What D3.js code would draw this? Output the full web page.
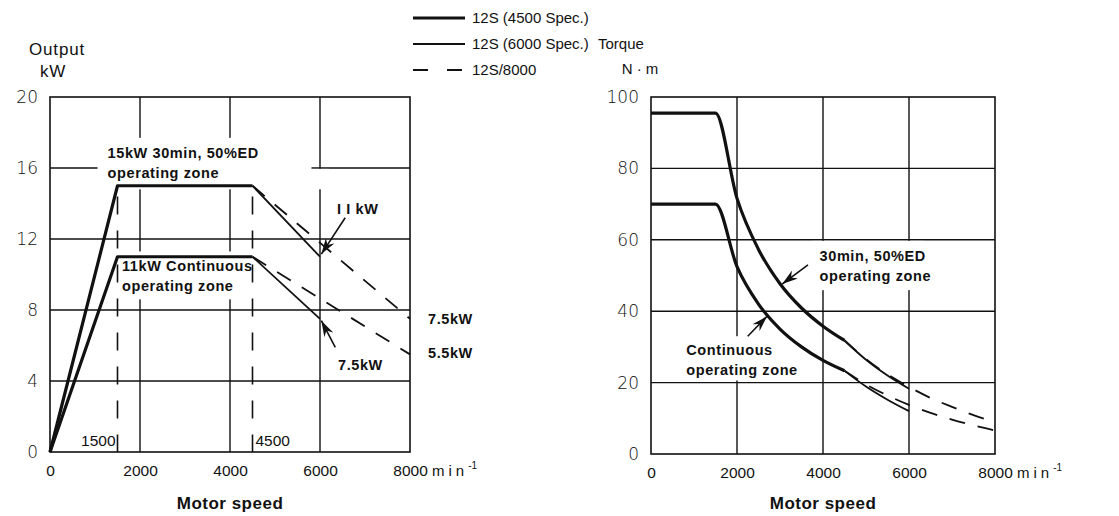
<!DOCTYPE html>
<html>
<head>
<meta charset="utf-8">
<script src="https://cdn.jsdelivr.net/npm/d3@7"></script>
<style>
  body { margin: 0; background: #fff; }
  text { font-family: "Liberation Sans", Arial, sans-serif; fill: #111; }
  .note { font-weight: bold; font-size: 14.5px; letter-spacing: 0.6px; }
  .ytick { font-family: "DejaVu Sans", sans-serif; font-size: 17px; font-weight: 300; }
  .xtick { font-size: 15.5px; }
</style>
</head>
<body>
<svg id="chart" width="1119" height="516"></svg>
<script>
'use strict';

// ---- shared
const speedTicks = [0, 2000, 4000, 6000, 8000];
const legendNames = ['12S (4500 Spec.)', '12S (6000 Spec.)', '12S/8000'];

// ---- output chart (kW)
const outTicksY = [0, 4, 8, 12, 16, 20];
const outSpeed4500 = [0, 1500, 4500];
const out30_4500 = [0, 15, 15];
const outCont_4500 = [0, 11, 11];
const outSpeed6000 = [4500, 6000];
const out30_6000 = [15, 11];
const outCont_6000 = [11, 7.5];
const outSpeed8000 = [4500, 8000];
const out30_8000 = [15, 7.5];
const outCont_8000 = [11, 5.5];
const baseSpeeds = [1500, 4500];

// ---- torque chart (N·m)
const tqTicksY = [0, 20, 40, 60, 80, 100];
const tqSpeed4500 = [0, 1500, 2000, 2500, 3000, 3500, 4000, 4500];
const tq30_4500 = [95.5, 95.5, 71.6, 57.3, 47.7, 40.9, 35.8, 31.8];
const tqCont_4500 = [70, 70, 52.5, 42, 35, 30, 26.2, 23.3];
const tqSpeed6000 = [4500, 5000, 5500, 6000];
const tq30_6000 = [31.8, 26.4, 22, 18.3];
const tqCont_6000 = [23.3, 18.9, 15.2, 12];
const tqSpeed8000 = [4500, 5000, 5500, 6000, 6500, 7000, 7500, 8000];
const tq30_8000 = [31.8, 26.6, 22.3, 18.8, 15.7, 13.2, 10.9, 8.95];
const tqCont_8000 = [23.3, 19.5, 16.4, 13.75, 11.5, 9.65, 8.0, 6.6];

const svg = d3.select('#chart');

svg.append('defs').append('marker')
    .attr('id', 'arrow')
    .attr('markerUnits', 'userSpaceOnUse')
    .attr('markerWidth', 18).attr('markerHeight', 10)
    .attr('refX', 16).attr('refY', 5)
    .attr('orient', 'auto')
  .append('path')
    .attr('d', 'M0,0 L16,5 L0,10 L5,5 Z')
    .attr('fill', '#111');

const styles = {
    thick: { w: 3.2, dash: null },
    thin: { w: 1.8, dash: null },
    dash: { w: 1.8, dash: '16,13' }
};

function panel(cfg) {
    let x = d3.scaleLinear().domain([0, 8000]).range(cfg.xr);
    let y = d3.scaleLinear().domain(cfg.yd).range(cfg.yr);
    let g = svg.append('g');

    // grid
    g.selectAll('.vg').data(speedTicks.slice(1, -1)).enter().append('line')
        .attr('x1', d => x(d)).attr('x2', d => x(d))
        .attr('y1', cfg.yr[1]).attr('y2', cfg.yr[0])
        .attr('stroke', '#111').attr('stroke-width', 1.4);
    g.selectAll('.hg').data(cfg.yticks.slice(1, -1)).enter().append('line')
        .attr('x1', cfg.xr[0]).attr('x2', cfg.xr[1])
        .attr('y1', d => y(d)).attr('y2', d => y(d))
        .attr('stroke', '#111').attr('stroke-width', 1.4);

    // white boxes where the notes cut the grid
    g.selectAll('.box').data(cfg.boxes).enter().append('rect')
        .attr('x', d => x(d[0])).attr('y', d => y(d[3]))
        .attr('width', d => x(d[2]) - x(d[0]))
        .attr('height', d => y(d[1]) - y(d[3]))
        .attr('fill', '#fff');

    g.append('rect')
        .attr('x', cfg.xr[0]).attr('y', cfg.yr[1])
        .attr('width', cfg.xr[1] - cfg.xr[0]).attr('height', cfg.yr[0] - cfg.yr[1])
        .attr('fill', 'none').attr('stroke', '#111').attr('stroke-width', 1.6);

    // axes (labels only)
    let ax = g.append('g').attr('transform', 'translate(0,' + cfg.yr[0] + ')')
        .call(d3.axisBottom(x).tickValues(speedTicks).tickSize(0).tickPadding(13).tickFormat(d3.format('d')));
    ax.select('.domain').remove();
    ax.selectAll('text').attr('class', 'xtick').attr('font-family', null).attr('font-size', null);
    let ay = g.append('g').attr('transform', 'translate(' + cfg.xr[0] + ',0)')
        .call(d3.axisLeft(y).tickValues(cfg.yticks).tickSize(0).tickPadding(12));
    ay.select('.domain').remove();
    ay.selectAll('text').attr('class', 'ytick').attr('font-family', null).attr('font-size', null);

    g.append('text').attr('x', cfg.xr[1] + 22).attr('y', cfg.yr[0] + 24)
        .attr('font-size', 15).attr('letter-spacing', 4).text('min')
      .append('tspan').attr('dy', -7).attr('font-size', 10).attr('letter-spacing', 0).text('-1');
    g.append('text').attr('x', (cfg.xr[0] + cfg.xr[1]) / 2).attr('y', 509)
        .attr('text-anchor', 'middle').attr('font-size', 17).attr('font-weight', 'bold')
        .attr('letter-spacing', 0.5)
        .text('Motor speed');

    cfg.notes.forEach(function(n) {
        let t = g.append('text').attr('class', 'note')
            .attr('x', x(n.at[0])).attr('y', y(n.at[1]))
            .attr('letter-spacing', n.ls);
        n.lines.forEach(function(s, i) {
            t.append('tspan').attr('x', x(n.at[0])).attr('dy', i ? 20 : 0).text(s);
        });
    });

    let line = d3.line().x(d => x(d[0])).y(d => y(d[1])).curve(cfg.curve);
    cfg.series.forEach(function(s) {
        let st = styles[s.kind];
        g.append('path')
            .datum(d3.zip(s.xs, s.ys))
            .attr('d', line)
            .attr('fill', 'none').attr('stroke', '#111')
            .attr('stroke-width', st.w)
            .attr('stroke-dasharray', st.dash)
            .attr('stroke-linejoin', 'round');
    });

    cfg.arrows.forEach(function(a) {
        g.append('line')
            .attr('x1', x(a.from[0])).attr('y1', y(a.from[1]))
            .attr('x2', x(a.to[0])).attr('y2', y(a.to[1]))
            .attr('stroke', '#111').attr('stroke-width', 1.6)
            .attr('marker-end', 'url(#arrow)');
    });
    return { x: x, y: y, g: g };
}

// ---- left: output
let left = panel({
    xr: [50, 410], yr: [452, 97], yd: [0, 20], yticks: outTicksY,
    curve: d3.curveLinear,
    boxes: [[1055, 14.8, 5811, 17.7], [5811, 14.8, 6200, 15.95], [1550, 8.6, 4400, 11.3]],
    notes: [
        { lines: ['15kW 30min, 50%ED', 'operating zone'], at: [1280, 16.55] },
        { lines: ['11kW Continuous', 'operating zone'], at: [1600, 10.2] },
        { lines: ['I I kW'], at: [6380, 13.4], ls: 5 },
        { lines: ['7.5kW'], at: [6400, 4.6] },
        { lines: ['7.5kW'], at: [8400, 7.2] },
        { lines: ['5.5kW'], at: [8400, 5.3] }
    ],
    series: [
        { xs: outSpeed4500, ys: out30_4500, kind: 'thick' },
        { xs: outSpeed4500, ys: outCont_4500, kind: 'thick' },
        { xs: outSpeed6000, ys: out30_6000, kind: 'thin' },
        { xs: outSpeed6000, ys: outCont_6000, kind: 'thin' },
        { xs: outSpeed8000, ys: out30_8000, kind: 'dash' },
        { xs: outSpeed8000, ys: outCont_8000, kind: 'dash' }
    ],
    arrows: [
        { from: [6560, 13.2], to: [6030, 11.15] },
        { from: [6340, 5.9], to: [6030, 7.4] }
    ]
});

// base speed dashed markers
left.g.selectAll('.base').data(baseSpeeds).enter().append('line')
    .attr('x1', d => left.x(d)).attr('x2', d => left.x(d))
    .attr('y1', left.y(14.4)).attr('y2', left.y(0))
    .attr('stroke', '#111').attr('stroke-width', 1.6)
    .attr('stroke-dasharray', '18,16');
left.g.selectAll('.baselbl').data(baseSpeeds).enter().append('text')
    .attr('x', (d, i) => left.x(d) + (i ? 3 : -2))
    .attr('y', left.y(0) - 6)
    .attr('text-anchor', (d, i) => i ? 'start' : 'end')
    .attr('font-size', 15.5)
    .text(d => d);

svg.append('text').attr('x', 57).attr('y', 55).attr('text-anchor', 'middle')
    .attr('font-size', 17).attr('letter-spacing', 0.8).text('Output');
svg.append('text').attr('x', 53).attr('y', 77).attr('text-anchor', 'middle')
    .attr('font-size', 17).attr('letter-spacing', 0.8).text('kW');

// ---- right: torque
let right = panel({
    xr: [651, 995], yr: [454, 97], yd: [0, 100], yticks: tqTicksY,
    curve: d3.curveMonotoneX,
    boxes: [[3750, 45.9, 6350, 59.7], [700, 20.6, 3150, 33]],
    notes: [
        { lines: ['30min, 50%ED', 'operating zone'], at: [3920, 54] },
        { lines: ['Continuous', 'operating zone'], at: [820, 27.6] }
    ],
    series: [
        { xs: tqSpeed4500, ys: tq30_4500, kind: 'thick' },
        { xs: tqSpeed4500, ys: tqCont_4500, kind: 'thick' },
        { xs: tqSpeed6000, ys: tq30_6000, kind: 'thin' },
        { xs: tqSpeed6000, ys: tqCont_6000, kind: 'thin' },
        { xs: tqSpeed8000, ys: tq30_8000, kind: 'dash' },
        { xs: tqSpeed8000, ys: tqCont_8000, kind: 'dash' }
    ],
    arrows: [
        { from: [3650, 53], to: [3050, 47.6] },
        { from: [2250, 33], to: [2700, 38.6] }
    ]
});

svg.append('text').attr('x', 598).attr('y', 49).attr('font-size', 15).text('Torque');
svg.append('text').attr('x', 640).attr('y', 74).attr('text-anchor', 'middle')
    .attr('font-size', 15).text('N · m');

// ---- legend
let lg = svg.append('g');
let rows = lg.selectAll('g').data(legendNames).enter().append('g')
    .attr('transform', (d, i) => 'translate(413,' + (18 + i * 26) + ')');
rows.append('line')
    .attr('x1', 0).attr('x2', 52)
    .attr('stroke', '#111')
    .attr('stroke-width', (d, i) => [styles.thick.w, styles.thin.w, styles.dash.w][i])
    .attr('stroke-dasharray', (d, i) => i === 2 ? '15,19' : null);
rows.append('text').attr('x', 59).attr('y', 5).attr('font-size', 15).text(d => d);
</script>
</body>
</html>
